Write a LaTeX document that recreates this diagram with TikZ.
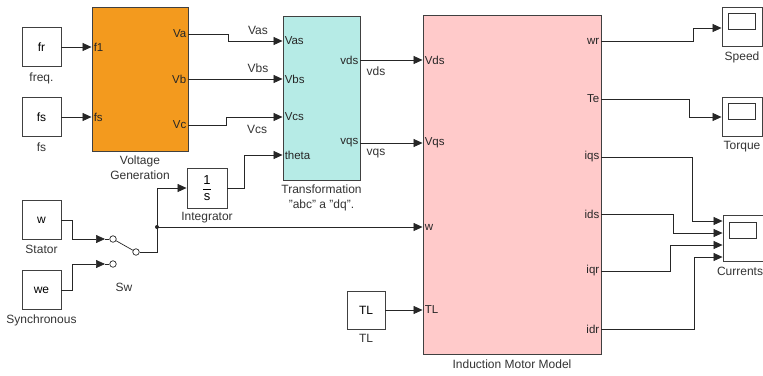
\documentclass[tikz,border=0pt]{standalone}
\usepackage{fontspec}
\setmainfont{Liberation Sans}
\usetikzlibrary{arrows.meta, positioning, calc}
\definecolor{gencolor}{HTML}{F39A1E}
\definecolor{trfcolor}{HTML}{B6EBE6}
\definecolor{motorcolor}{HTML}{FFCACA}
\definecolor{wirecolor}{HTML}{262626}
\tikzset{
    block/.style={rectangle, draw=black!75, fill=white, line width=0.9pt, inner sep=0pt, font=\fontsize{12}{14}\selectfont},
    constblock/.style={block, minimum width=39pt, minimum height=39pt},
    scopeblock/.style={block, minimum width=40pt, minimum height=39pt},
    screen/.style={rectangle, draw=black!80, line width=0.8pt, minimum width=27pt, minimum height=16pt, inner sep=0pt},
    genblock/.style={block, fill=gencolor, minimum width=96pt, minimum height=144pt},
    trfblock/.style={block, fill=trfcolor, minimum width=77pt, minimum height=164pt},
    motorblock/.style={block, fill=motorcolor, minimum width=178pt, minimum height=339pt},
    lbl/.style={font=\fontsize{12}{15}\selectfont, text=black!80, inner sep=1pt, align=center},
    portin/.style={anchor=west, font=\fontsize{11.5}{13}\selectfont, text=black!85, inner sep=2pt},
    portout/.style={anchor=east, font=\fontsize{11.5}{13}\selectfont, text=black!85, inner sep=2pt},
    swpin/.style={circle, draw=wirecolor, fill=white, line width=0.7pt, minimum size=6.5pt, inner sep=0pt},
    sig/.style={-{Triangle[length=9pt,width=8pt]}, line width=0.7pt, draw=wirecolor},
    wire/.style={line width=0.7pt, draw=wirecolor}
}

\begin{document}
\begin{tikzpicture}[x=1pt, y=-1pt]
    \useasboundingbox (0,0) rectangle (763,375);
    % sources
    \node[constblock] (fr) at (41.5,47) {fr};
    \node[lbl, below=5pt of fr] (frlbl) {freq.};
    \node[constblock] (fsc) at (41.5,117) {fs};
    \node[lbl, below=5pt of fsc] (fslbl) {fs};
    \node[constblock] (wst) at (41.5,220) {w};
    \node[lbl, below=4pt of wst] (wstlbl) {Stator};
    \node[constblock] (wsy) at (41.5,290) {we};
    \node[lbl, below=4pt of wsy] (wsylbl) {Synchronous};
    % main blocks
    \node[genblock] (volt) at (140,79) {};
    \node[lbl, below=3pt of volt] (voltlbl) {Voltage\\Generation};
    \node[trfblock] (trf) at (321.5,98) {};
    \node[lbl, below=3pt of trf] (trflbl) {Transformation\\"abc" a "dq".};
    \node[motorblock] (motor) at (512,184.5) {};
    \node[lbl, below=4pt of motor] (motorlbl) {Induction Motor Model};
    \node[constblock, minimum width=40pt, minimum height=40pt] (integ) at (207,188) {\fontsize{13}{15}\selectfont$\displaystyle\frac{\mbox{1}}{\mbox{s}}$};
    \node[lbl, below=3pt of integ] (integlbl) {Integrator};
    \node[constblock, minimum width=38pt, minimum height=38pt] (tl) at (366,310) {TL};
    \node[lbl, below=4pt of tl] (tllbl) {TL};
    % scopes
    \node[scopeblock] (speed) at (742,26.5) {};
    \node[screen] (speedscr) at ($(speed.center)+(0,-5.5)$) {};
    \node[lbl, below=4pt of speed] (speedlbl) {Speed};
    \node[scopeblock] (torque) at (742,116.5) {};
    \node[screen] (torquescr) at ($(torque.center)+(0,-5.5)$) {};
    \node[lbl, below=4pt of torque] (torquelbl) {Torque};
    \node[scopeblock, minimum height=46pt] (curr) at (743,238.5) {};
    \node[screen] (currscr) at ($(curr.center)+(0,-8)$) {};
    \node[lbl, below=4pt of curr, xshift=-3pt] (currlbl) {Currents};

    % ports
    \coordinate (f1) at (volt.west |- 0,47);
    \coordinate (fsin) at (volt.west |- 0,117);
    \coordinate (va) at (volt.east |- 0,34);
    \coordinate (vb) at (volt.east |- 0,79);
    \coordinate (vc) at (volt.east |- 0,125);
    \coordinate (vas) at (trf.west |- 0,41);
    \coordinate (vbs) at (trf.west |- 0,79);
    \coordinate (vcs) at (trf.west |- 0,117);
    \coordinate (theta) at (trf.west |- 0,155);
    \coordinate (vdso) at (trf.east |- 0,60);
    \coordinate (vqso) at (trf.east |- 0,143);
    \coordinate (vdsi) at (motor.west |- 0,60);
    \coordinate (vqsi) at (motor.west |- 0,143);
    \coordinate (wi) at (motor.west |- 0,227);
    \coordinate (tli) at (motor.west |- 0,310);
    \coordinate (wr) at (motor.east |- 0,41);
    \coordinate (te) at (motor.east |- 0,99);
    \coordinate (iqs) at (motor.east |- 0,157);
    \coordinate (ids) at (motor.east |- 0,214);
    \coordinate (iqr) at (motor.east |- 0,271);
    \coordinate (idr) at (motor.east |- 0,329);
    \coordinate (speedin) at (speed.west |- 0,28);
    \coordinate (torquein) at (torque.west |- 0,117);
    \coordinate (cur1) at (curr.west |- 0,221);
    \coordinate (cur2) at (curr.west |- 0,233);
    \coordinate (cur3) at (curr.west |- 0,245);
    \coordinate (cur4) at (curr.west |- 0,257);

    \node[portin] (f1lbl) at (f1) {f1};
    \node[portin] (fsinlbl) at (fsin) {fs};
    \node[portout] (valbl) at (va) {Va};
    \node[portout] (vblbl) at (vb) {Vb};
    \node[portout] (vclbl) at (vc) {Vc};
    \node[portin] (vaslbl) at (vas) {Vas};
    \node[portin] (vbslbl) at (vbs) {Vbs};
    \node[portin] (vcslbl) at (vcs) {Vcs};
    \node[portin] (thetalbl) at (theta) {theta};
    \node[portout] (vdsolbl) at (vdso) {vds};
    \node[portout] (vqsolbl) at (vqso) {vqs};
    \node[portin] (vdsilbl) at (vdsi) {Vds};
    \node[portin] (vqsilbl) at (vqsi) {Vqs};
    \node[portin] (wilbl) at (wi) {w};
    \node[portin] (tlilbl) at (tli) {TL};
    \node[portout] (wrlbl) at (wr) {wr};
    \node[portout] (telbl) at (te) {Te};
    \node[portout] (iqslbl) at (iqs) {iqs};
    \node[portout] (idslbl) at (ids) {ids};
    \node[portout] (iqrlbl) at (iqr) {iqr};
    \node[portout] (idrlbl) at (idr) {idr};

    % switch
    \coordinate (sw1arr) at (105,239);
    \coordinate (sw2arr) at (105,264);
    \node[swpin] (sw1) at (113,239) {};
    \node[swpin] (sw2) at (113,264) {};
    \node[swpin] (swout) at (136,252) {};
    \node[lbl] (swlbl) at (124,287) {Sw};
    \coordinate (junc) at (157,227);

    % wires
    \draw[sig] (fr) -- (f1);
    \draw[sig] (fsc) -- (fsin);
    \draw[sig] (va) -- ++(40,0) |- (vas);
    \draw[sig] (vb) -- (vbs);
    \draw[sig] (vc) -- ++(38,0) |- (vcs);
    \node[lbl] (vasw) at (258,30) {Vas};
    \node[lbl] (vbsw) at (258,68) {Vbs};
    \node[lbl] (vcsw) at (257,129) {Vcs};
    \draw[sig] (vdso) -- (vdsi);
    \draw[sig] (vqso) -- (vqsi);
    \node[lbl] (vdsw) at (376,71) {vds};
    \node[lbl] (vqsw) at (376,154) {vqs};
    \draw[sig] (wst.east) -- ++(11,0) |- (sw1arr);
    \draw[sig] (wsy.east) -- ++(11,0) |- (sw2arr);
    \draw[wire] (sw1arr) -- (sw1);
    \draw[wire] (sw2arr) -- (sw2);
    \draw[wire] (sw1) -- (swout);
    \draw[wire] (swout) -| (junc);
    \draw[sig] (junc) |- (integ.west);
    \draw[sig] (junc) -- (wi);
    \fill[wirecolor] (junc) circle (2pt);
    \draw[sig] (integ.east) -- ++(17,0) |- (theta);
    \draw[sig] (tl) -- (tli);
    \draw[sig] (wr) -- ++(92,0) |- (speedin);
    \draw[sig] (te) -- ++(88,0) |- (torquein);
    \draw[sig] (iqs) -- ++(91,0) |- (cur1);
    \draw[sig] (ids) -- ++(72,0) |- (cur2);
    \draw[sig] (iqr) -- ++(69,0) |- (cur3);
    \draw[sig] (idr) -- ++(93,0) |- (cur4);
\end{tikzpicture}
\end{document}
